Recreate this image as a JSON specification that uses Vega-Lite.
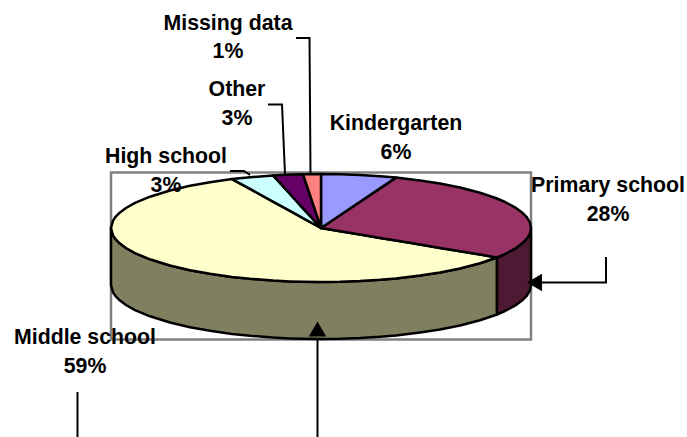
{"$schema":"https://vega.github.io/schema/vega-lite/v6.json","width":687,"height":437,"padding":0,"autosize":{"type":"none"},"background":"white","config":{"view":{"stroke":null}},
"datasets":{
"frame":[{"x":111,"x2":531,"y":172.5,"y2":339.5}],
"wedges":[
{"slice":"Middle wall","x":111,"y":228,"y2":285},{"slice":"Middle wall","x":113,"y":235.4,"y2":292.4},{"slice":"Middle wall","x":116,"y":239.7,"y2":296.7},{"slice":"Middle wall","x":120,"y":243.6,"y2":300.6},{"slice":"Middle wall","x":126,"y":248,"y2":305},{"slice":"Middle wall","x":135,"y":253.1,"y2":310.1},{"slice":"Middle wall","x":150,"y":259.3,"y2":316.3},{"slice":"Middle wall","x":170,"y":265.5,"y2":322.5},{"slice":"Middle wall","x":190,"y":270.2,"y2":327.2},{"slice":"Middle wall","x":210,"y":273.8,"y2":330.8},{"slice":"Middle wall","x":232,"y":276.9,"y2":333.9},{"slice":"Middle wall","x":250,"y":278.8,"y2":335.8},{"slice":"Middle wall","x":273,"y":280.6,"y2":337.6},{"slice":"Middle wall","x":290,"y":281.4,"y2":338.4},{"slice":"Middle wall","x":303,"y":281.8,"y2":338.8},{"slice":"Middle wall","x":321,"y":282,"y2":339},{"slice":"Middle wall","x":340,"y":281.8,"y2":338.8},{"slice":"Middle wall","x":360,"y":281.1,"y2":338.1},{"slice":"Middle wall","x":380,"y":279.8,"y2":336.8},{"slice":"Middle wall","x":396,"y":278.4,"y2":335.4},{"slice":"Middle wall","x":420,"y":275.6,"y2":332.6},{"slice":"Middle wall","x":440,"y":272.5,"y2":329.5},{"slice":"Middle wall","x":460,"y":268.5,"y2":325.5},{"slice":"Middle wall","x":480,"y":263.3,"y2":320.3},{"slice":"Middle wall","x":497,"y":257.5,"y2":314.5},
{"slice":"Primary wall","x":497,"y":257.5,"y2":314.5},{"slice":"Primary wall","x":505,"y":254,"y2":311},{"slice":"Primary wall","x":515,"y":248.7,"y2":305.7},{"slice":"Primary wall","x":522,"y":243.6,"y2":300.6},{"slice":"Primary wall","x":527,"y":238.5,"y2":295.5},{"slice":"Primary wall","x":530,"y":233.3,"y2":290.3},{"slice":"Primary wall","x":531,"y":228,"y2":285},
{"slice":"Middle school","x":111,"y":228,"y2":228},{"slice":"Middle school","x":113,"y":220.6,"y2":235.4},{"slice":"Middle school","x":116,"y":216.3,"y2":239.7},{"slice":"Middle school","x":120,"y":212.4,"y2":243.6},{"slice":"Middle school","x":126,"y":208,"y2":248},{"slice":"Middle school","x":135,"y":202.9,"y2":253.1},{"slice":"Middle school","x":150,"y":196.7,"y2":259.3},{"slice":"Middle school","x":170,"y":190.5,"y2":265.5},{"slice":"Middle school","x":190,"y":185.8,"y2":270.2},{"slice":"Middle school","x":210,"y":182.2,"y2":273.8},{"slice":"Middle school","x":232,"y":179.1,"y2":276.9},{"slice":"Middle school","x":250,"y":188.9,"y2":278.8},{"slice":"Middle school","x":273,"y":201.6,"y2":280.6},{"slice":"Middle school","x":290,"y":210.9,"y2":281.4},{"slice":"Middle school","x":303,"y":218.1,"y2":281.8},{"slice":"Middle school","x":321,"y":228,"y2":282},{"slice":"Middle school","x":340,"y":231.2,"y2":281.8},{"slice":"Middle school","x":360,"y":234.5,"y2":281.1},{"slice":"Middle school","x":380,"y":237.9,"y2":279.8},{"slice":"Middle school","x":396,"y":240.6,"y2":278.4},{"slice":"Middle school","x":420,"y":244.6,"y2":275.6},{"slice":"Middle school","x":440,"y":247.9,"y2":272.5},{"slice":"Middle school","x":460,"y":251.3,"y2":268.5},{"slice":"Middle school","x":480,"y":254.6,"y2":263.3},{"slice":"Middle school","x":497,"y":257.5,"y2":257.5},
{"slice":"Primary school","x":321,"y":228,"y2":228},{"slice":"Primary school","x":340,"y":215.2,"y2":231.2},{"slice":"Primary school","x":360,"y":201.8,"y2":234.5},{"slice":"Primary school","x":380,"y":188.4,"y2":237.9},{"slice":"Primary school","x":396,"y":177.6,"y2":240.6},{"slice":"Primary school","x":420,"y":180.4,"y2":244.6},{"slice":"Primary school","x":440,"y":183.5,"y2":247.9},{"slice":"Primary school","x":460,"y":187.5,"y2":251.3},{"slice":"Primary school","x":480,"y":192.7,"y2":254.6},{"slice":"Primary school","x":497,"y":198.5,"y2":257.5},{"slice":"Primary school","x":505,"y":202,"y2":254},{"slice":"Primary school","x":515,"y":207.3,"y2":248.7},{"slice":"Primary school","x":522,"y":212.4,"y2":243.6},{"slice":"Primary school","x":527,"y":217.5,"y2":238.5},{"slice":"Primary school","x":530,"y":222.7,"y2":233.3},{"slice":"Primary school","x":531,"y":228,"y2":228},
{"slice":"Kindergarten","x":321,"y":174,"y2":228},{"slice":"Kindergarten","x":340,"y":174.2,"y2":215.2},{"slice":"Kindergarten","x":360,"y":174.9,"y2":201.8},{"slice":"Kindergarten","x":380,"y":176.2,"y2":188.4},{"slice":"Kindergarten","x":396,"y":177.6,"y2":177.6},
{"slice":"High school","x":232,"y":179.1,"y2":179.1},{"slice":"High school","x":250,"y":177.2,"y2":188.9},{"slice":"High school","x":273,"y":175.4,"y2":201.6},{"slice":"High school","x":290,"y":194,"y2":210.9},{"slice":"High school","x":303,"y":208.3,"y2":218.1},{"slice":"High school","x":321,"y":228,"y2":228},
{"slice":"Other","x":273,"y":175.4,"y2":175.4},{"slice":"Other","x":290,"y":174.6,"y2":194},{"slice":"Other","x":303,"y":174.2,"y2":208.3},{"slice":"Other","x":321,"y":228,"y2":228},
{"slice":"Missing data","x":303,"y":174.2,"y2":174.2},{"slice":"Missing data","x":321,"y":174,"y2":228}
],
"leaders":[
{"k":"primary","o":1,"x":606,"y":257},{"k":"primary","o":2,"x":606,"y":282.5},{"k":"primary","o":3,"x":535,"y":282.5},
{"k":"middle","o":1,"x":317.5,"y":437},{"k":"middle","o":2,"x":317.5,"y":330},
{"k":"left","o":1,"x":77.5,"y":392},{"k":"left","o":2,"x":77.5,"y":437},
{"k":"other","o":1,"x":268,"y":104.5},{"k":"other","o":2,"x":282,"y":104.5},{"k":"other","o":3,"x":285,"y":174},
{"k":"missing","o":1,"x":296,"y":38},{"k":"missing","o":2,"x":309.5,"y":38},{"k":"missing","o":3,"x":310.5,"y":174},
{"k":"high","o":1,"x":230,"y":171},{"k":"high","o":2,"x":244,"y":171},{"k":"high","o":3,"x":250,"y":175}
],
"labels":[
{"t":"Missing data","x":228,"y":24},{"t":"1%","x":228,"y":52},
{"t":"Other","x":237,"y":90},{"t":"3%","x":237,"y":119},
{"t":"High school","x":166,"y":157},{"t":"3%","x":166,"y":186},
{"t":"Kindergarten","x":396,"y":124},{"t":"6%","x":396,"y":153},
{"t":"Primary school","x":608,"y":186},{"t":"28%","x":608,"y":215},
{"t":"Middle school","x":85,"y":338},{"t":"59%","x":85,"y":367}
]},
"layer":[
{"data":{"name":"frame"},"mark":{"type":"rect","fill":null,"stroke":"#808080","strokeWidth":2.5},"encoding":{"x":{"field":"x","type":"quantitative","scale":{"domain":[0,687]},"axis":null},"x2":{"field":"x2"},"y":{"field":"y","type":"quantitative","scale":{"domain":[437,0]},"axis":null},"y2":{"field":"y2"}}},
{"data":{"name":"leaders"},"mark":{"type":"line","stroke":"black","strokeWidth":2,"strokeJoin":"miter"},"encoding":{"x":{"field":"x","type":"quantitative","scale":{"domain":[0,687]},"axis":null},"y":{"field":"y","type":"quantitative","scale":{"domain":[437,0]},"axis":null},"detail":{"field":"k"},"order":{"field":"o"}}},
{"data":{"name":"wedges"},"mark":{"type":"area","stroke":"black","strokeWidth":2.5,"strokeJoin":"round","opacity":1},"encoding":{"x":{"field":"x","type":"quantitative","scale":{"domain":[0,687]},"axis":null},"y":{"field":"y","type":"quantitative","scale":{"domain":[437,0]},"axis":null,"stack":null},"y2":{"field":"y2"},"fill":{"field":"slice","type":"nominal","legend":null,"scale":{"domain":["Middle wall","Primary wall","Middle school","Primary school","Kindergarten","High school","Other","Missing data"],"range":["#808060","#4D1933","#FFFFCC","#993366","#9999FF","#CCFFFF","#660066","#FF8080"]}}}},
{"data":{"values":[{"x":534.5,"y":282.5}]},"mark":{"type":"point","shape":"triangle-left","filled":true,"fill":"black","stroke":null,"size":300,"opacity":1},"encoding":{"x":{"field":"x","type":"quantitative","scale":{"domain":[0,687]},"axis":null},"y":{"field":"y","type":"quantitative","scale":{"domain":[437,0]},"axis":null}}},
{"data":{"values":[{"x":317.5,"y":329}]},"mark":{"type":"point","shape":"triangle-up","filled":true,"fill":"black","stroke":null,"size":300,"opacity":1},"encoding":{"x":{"field":"x","type":"quantitative","scale":{"domain":[0,687]},"axis":null},"y":{"field":"y","type":"quantitative","scale":{"domain":[437,0]},"axis":null}}},
{"data":{"name":"labels"},"mark":{"type":"text","font":"Liberation Sans","fontWeight":"bold","fontSize":21.3,"align":"center","baseline":"middle","fill":"black"},"encoding":{"x":{"field":"x","type":"quantitative","scale":{"domain":[0,687]},"axis":null},"y":{"field":"y","type":"quantitative","scale":{"domain":[437,0]},"axis":null},"text":{"field":"t"}}}
]}
